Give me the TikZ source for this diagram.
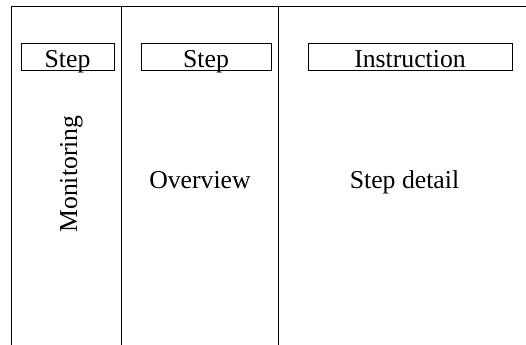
\documentclass[tikz,border=0pt]{standalone}
\usepackage{fontspec}
\setmainfont{Liberation Serif}

\begin{document}
\begin{tikzpicture}[x=0.025cm,y=0.025cm,
    panel/.style={line width=0.6pt},
    headbox/.style={draw, line width=0.6pt, minimum height=27*0.025cm, inner sep=0pt,
        text height=21*0.025cm, text depth=0pt},
    label/.style={font=\fontsize{18.3}{20}\selectfont}]

    % Fix the size of the picture
    \useasboundingbox (0,0) rectangle (526,344);
    \clip (0,0) rectangle (526,344);

    % Define the corners of the frame and the column dividers
    \coordinate (TL) at (11,338);
    \coordinate (BL) at (11,-10);
    \coordinate (TR) at (540,338);
    \coordinate (D1top) at (121,338);
    \coordinate (D1bot) at (121,-10);
    \coordinate (D2top) at (278,338);
    \coordinate (D2bot) at (278,-10);

    % Draw the frame and the dividers
    \draw[panel] (BL) -- (TL) -- (TR);
    \draw[panel] (D1top) -- (D1bot);
    \draw[panel] (D2top) -- (D2bot);

    % Header boxes
    \node[headbox, label, minimum width=93*0.025cm] (step1) at (67.5,287.5) {Step};
    \node[headbox, label, minimum width=130*0.025cm] (step2) at (206,287.5) {Step};
    \node[headbox, label, minimum width=204*0.025cm] (instr) at (410,287.5) {Instruction};

    % Column texts
    \node[label, rotate=90, anchor=base] (monitor) at (77,170) {Monitoring};
    \node[label, anchor=base] (overview) at (200,156) {Overview};
    \node[label, anchor=base] (detail) at (404.5,156) {Step detail};

\end{tikzpicture}
\end{document}
